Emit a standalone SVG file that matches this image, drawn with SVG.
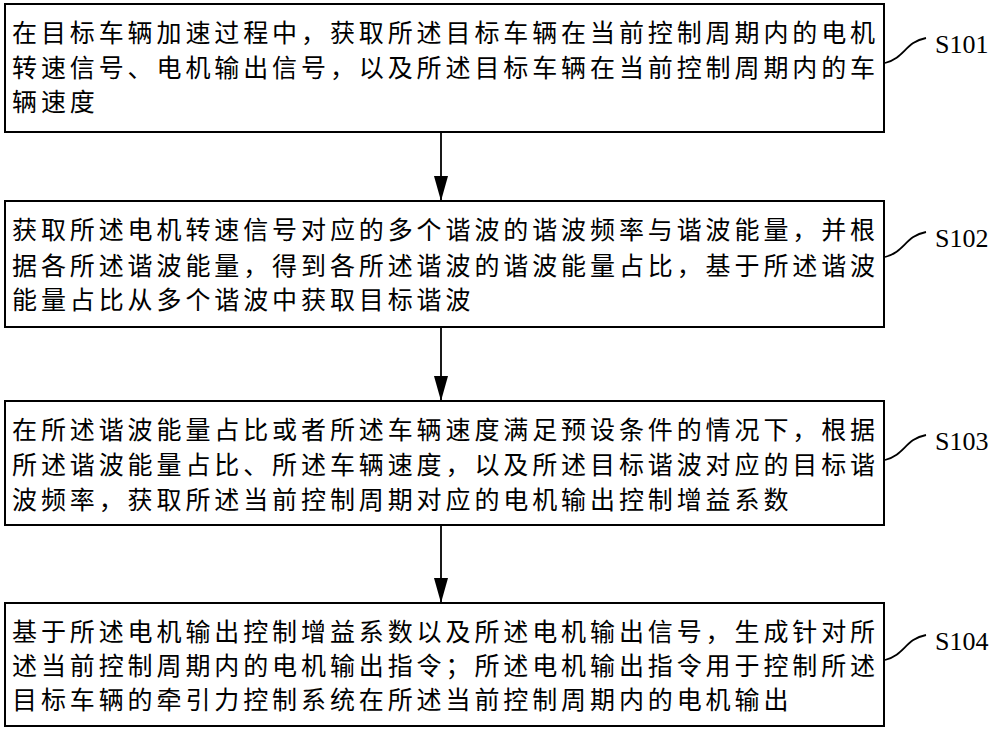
<svg xmlns="http://www.w3.org/2000/svg" width="1000" height="731" viewBox="0 0 1000 731">
<style>
.box{fill:#fff;stroke:#000;stroke-width:2}
.t{font-family:"Noto Sans CJK SC",sans-serif;font-size:25px;letter-spacing:3.9px;fill:#000}
.lbl{font-family:"Liberation Serif",serif;font-size:26px;fill:#000}
.c{fill:none;stroke:#000;stroke-width:1.8}
</style>
<defs><marker id="a" markerWidth="26" markerHeight="14" refX="25" refY="7" orient="auto" markerUnits="userSpaceOnUse"><path d="M0,0 L25,7 L0,14 Z" fill="#000"/></marker></defs>
<rect width="1000" height="731" fill="#fff"/>
<g id="n1"><rect class="box" x="5" y="4" width="879" height="128"/>
<text class="t" x="12" y="42">在目标车辆加速过程中，获取所述目标车辆在当前控制周期内的电机</text>
<text class="t" x="12" y="77">转速信号、电机输出信号，以及所述目标车辆在当前控制周期内的车</text>
<text class="t" x="12" y="111">辆速度</text></g>
<g id="n2"><rect class="box" x="5" y="201" width="879" height="126"/>
<text class="t" x="12" y="239">获取所述电机转速信号对应的多个谐波的谐波频率与谐波能量，并根</text>
<text class="t" x="12" y="275">据各所述谐波能量，得到各所述谐波的谐波能量占比，基于所述谐波</text>
<text class="t" x="12" y="309">能量占比从多个谐波中获取目标谐波</text></g>
<g id="n3"><rect class="box" x="5" y="401" width="879" height="124"/>
<text class="t" x="12" y="439">在所述谐波能量占比或者所述车辆速度满足预设条件的情况下，根据</text>
<text class="t" x="12" y="474">所述谐波能量占比、所述车辆速度，以及所述目标谐波对应的目标谐</text>
<text class="t" x="12" y="509">波频率，获取所述当前控制周期对应的电机输出控制增益系数</text></g>
<g id="n4"><rect class="box" x="5" y="603" width="879" height="123"/>
<text class="t" x="12" y="641">基于所述电机输出控制增益系数以及所述电机输出信号，生成针对所</text>
<text class="t" x="12" y="675">述当前控制周期内的电机输出指令；所述电机输出指令用于控制所述</text>
<text class="t" x="12" y="709">目标车辆的牵引力控制系统在所述当前控制周期内的电机输出</text></g>
<g id="connectors">
<line class="c" x1="441" y1="132" x2="441" y2="201" marker-end="url(#a)"/>
<line class="c" x1="441" y1="327" x2="441" y2="401" marker-end="url(#a)"/>
<line class="c" x1="441" y1="525" x2="441" y2="603" marker-end="url(#a)"/>
<path class="c" d="M885,63 C905,58 905,42 926,38"/>
<path class="c" d="M885,257 C905,252 905,236 926,232"/>
<path class="c" d="M885,460 C905,455 905,439 926,435"/>
<path class="c" d="M885,660 C905,655 905,639 926,635"/>
</g>
<g id="labels">
<text class="lbl" x="935" y="53">S101</text>
<text class="lbl" x="935" y="247">S102</text>
<text class="lbl" x="935" y="450">S103</text>
<text class="lbl" x="935" y="650">S104</text>
</g>
</svg>
